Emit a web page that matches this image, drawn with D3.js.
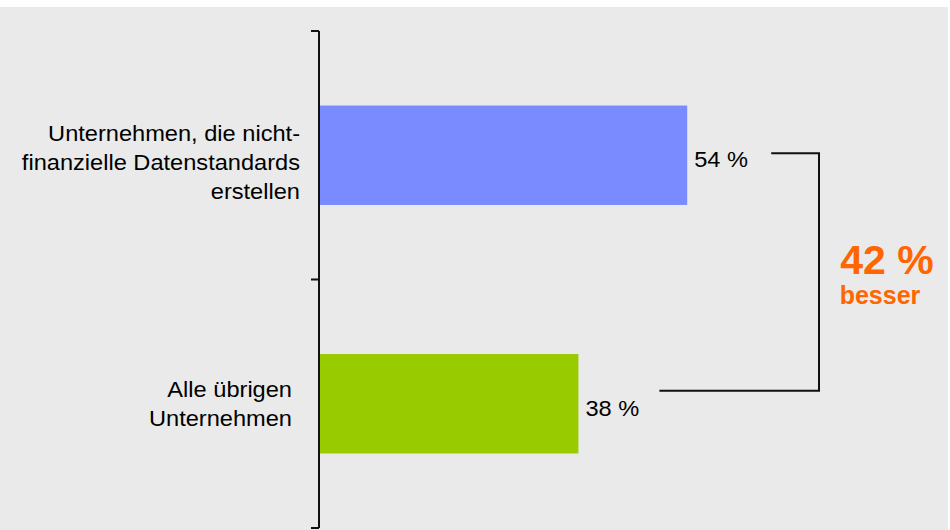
<!DOCTYPE html>
<html>
<head>
<meta charset="utf-8">
<script src="https://cdn.jsdelivr.net/npm/d3@7"></script>
<style>
  html, body { margin: 0; padding: 0; background: #ffffff; }
  svg { display: block; }
  text { font-family: "Liberation Sans", Arial, sans-serif; }
</style>
</head>
<body>
<svg id="chart" width="950" height="530"></svg>
<script>
// Share of companies, in percent
const categories = [
  ["Unternehmen, die nicht-", "finanzielle Datenstandards", "erstellen"],
  ["Alle übrigen", "Unternehmen"]
];
const values = [54, 38];
const valueLabels = ["54 %", "38 %"];
const colors = ["#7a8aff", "#99cc00"];
const deltaLabel = "42 %";
const deltaText = "besser";

const svg = d3.select("#chart");
const W = 950, H = 530;
const fontSize = 22.5;
const stretch = 1.05; // body text is set slightly wide

// backdrop panel
svg.append("rect").attr("x", 0).attr("y", 7).attr("width", 948).attr("height", H - 7)
  .attr("fill", "#eaeaea");

const keys = categories.map((c, i) => i);
const x = d3.scaleLinear().domain([0, 100]).range([320, 1000]);
const y = d3.scaleBand().domain(keys).range([31, 528]).padding(0);
const bw = y.bandwidth();
const barH = bw * 0.4;
const mid = i => y(i) + bw / 2;

// wide-set text at (tx, ty)
function wideText(tx, ty, s, anchor) {
  return svg.append("text")
    .attr("transform", `translate(${tx},${ty}) scale(${stretch},1)`)
    .attr("text-anchor", anchor)
    .attr("dy", "0.35em")
    .attr("font-size", fontSize)
    .attr("fill", "#000")
    .text(s);
}

// bars
svg.append("g").selectAll("rect").data(values).join("rect")
  .attr("x", x(0))
  .attr("y", (d, i) => mid(i) - barH / 2)
  .attr("width", d => x(d) - x(0))
  .attr("height", barH)
  .attr("fill", (d, i) => colors[i]);

// vertical category axis with ticks at band boundaries
const axis = svg.append("g").attr("stroke", "#111").attr("stroke-width", 2);
const x0 = x(0) - 1;
axis.append("line").attr("x1", x0).attr("x2", x0).attr("y1", y.range()[0]).attr("y2", y.range()[1]);
const bounds = keys.map(k => y(k)).concat([y.range()[1]]);
axis.selectAll("line.tick").data(bounds).join("line").attr("class", "tick")
  .attr("x1", x0 - 8).attr("x2", x0).attr("y1", d => d).attr("y2", d => d);

// category labels
const lineH = 29;
const labelEnd = [300, 292];
const labelShift = [7, 0];
categories.forEach((lines, i) => {
  const top = mid(i) + labelShift[i] - (lines.length - 1) * lineH / 2;
  lines.forEach((s, j) => wideText(labelEnd[i], top + j * lineH, s, "end"));
});

// value labels
values.forEach((d, i) => wideText(x(d) + 7, mid(i) + 4, valueLabels[i], "start"));

// comparison bracket
const bx = 819;
const yTop = mid(0) - 2, yBot = mid(1) - 13;
svg.append("path")
  .attr("d", `M${x(values[0]) + 84},${yTop}H${bx}V${yBot}H${x(values[1]) + 81}`)
  .attr("fill", "none").attr("stroke", "#111").attr("stroke-width", 2);

svg.append("text").attr("x", 887).attr("y", 274)
  .attr("text-anchor", "middle").attr("font-size", 41).attr("font-weight", "bold")
  .attr("fill", "#ff6600").text(deltaLabel);
svg.append("text").attr("x", 880).attr("y", 304)
  .attr("text-anchor", "middle").attr("font-size", 25).attr("font-weight", "bold")
  .attr("fill", "#ff6600").text(deltaText);
</script>
</body>
</html>
